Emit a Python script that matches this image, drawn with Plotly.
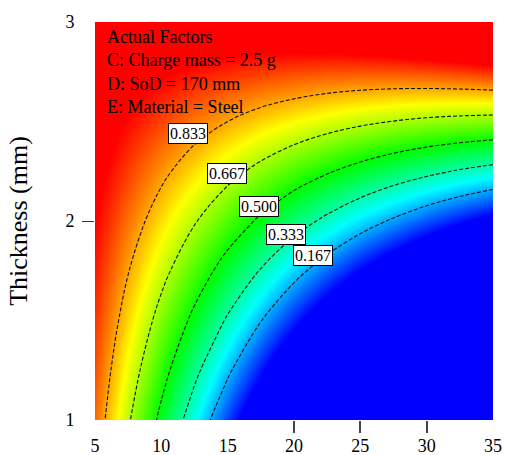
import plotly.graph_objects as go

# x: first factor (5..35), y: Thickness (mm)
x_vals = [5, 7.5, 10, 12.5, 15, 17.5, 20, 22.5, 25, 27.5, 30, 32.5, 35]
y_vals = [1, 1.25, 1.5, 1.75, 2, 2.25, 2.5, 2.75, 3]

z_y100 = [0.899, 0.681, 0.469, 0.262, 0.060, -0.137, -0.330, -0.517, -0.700, -0.877, -1.050, -1.217, -1.380]
z_y125 = [0.925, 0.733, 0.547, 0.365, 0.189, 0.017, -0.150, -0.311, -0.468, -0.620, -0.767, -0.909, -1.046]
z_y150 = [0.951, 0.785, 0.624, 0.469, 0.318, 0.171, 0.030, -0.106, -0.237, -0.363, -0.485, -0.601, -0.713]
z_y175 = [0.977, 0.837, 0.702, 0.572, 0.446, 0.326, 0.210, 0.100, -0.006, -0.106, -0.202, -0.293, -0.379]
z_y200 = [1.004, 0.889, 0.780, 0.675, 0.575, 0.480, 0.390, 0.306, 0.226, 0.151, 0.080, 0.015, -0.045]
z_y225 = [1.030, 0.941, 0.857, 0.778, 0.704, 0.635, 0.570, 0.511, 0.457, 0.407, 0.363, 0.323, 0.289]
z_y250 = [1.056, 0.993, 0.935, 0.881, 0.833, 0.789, 0.751, 0.717, 0.688, 0.664, 0.645, 0.632, 0.623]
z_y275 = [1.083, 1.045, 1.012, 0.984, 0.961, 0.944, 0.931, 0.922, 0.919, 0.921, 0.928, 0.940, 0.956]
z_y300 = [1.109, 1.097, 1.090, 1.088, 1.090, 1.098, 1.111, 1.128, 1.151, 1.178, 1.210, 1.248, 1.290]
z_rows = [z_y100, z_y125, z_y150, z_y175, z_y200, z_y225, z_y250, z_y275, z_y300]

contour_levels = [0.167, 0.333, 0.500, 0.667, 0.833]
level_labels = ["0.833", "0.667", "0.500", "0.333", "0.167"]
label_x = [12.03, 14.96, 17.36, 19.38, 21.45]
label_y = [2.438, 2.240, 2.075, 1.934, 1.829]

x_ticks = [5, 10, 15, 20, 25, 30, 35]
y_ticks = [1, 2, 3]
x_marked_ticks = [20, 25, 30]
y_marked_ticks = [2]
factor_lines = ["Actual Factors", "C: Charge mass = 2.5 g", "D: SoD = 170 mm", "E: Material = Steel"]

FONT = "Liberation Serif, Times New Roman, serif"
jet = [[0.0, "#0000FF"], [0.25, "#00FFFF"], [0.5, "#00FF00"], [0.75, "#FFFF00"], [1.0, "#FF0000"]]

fig = go.Figure()
fig.add_trace(go.Heatmap(x=x_vals, y=y_vals, z=z_rows, colorscale=jet, zmin=0, zmax=1,
                         zsmooth="best", showscale=False, hoverinfo="skip"))
fig.add_trace(go.Contour(x=x_vals, y=y_vals, z=z_rows, showscale=False,
                         contours=dict(start=contour_levels[0], end=contour_levels[-1] + 0.001,
                                       size=(contour_levels[-1] - contour_levels[0]) / 4,
                                       coloring="none", showlabels=False),
                         line=dict(color="#111111", width=1.1, dash="4px,2px"), hoverinfo="skip"))
# empty trace on the overlay axes (tick labels for x, visible tick mark for y)
fig.add_trace(go.Scatter(x=[None], y=[None], xaxis="x2", yaxis="y2", mode="markers",
                         hoverinfo="skip", showlegend=False))

for t, lx, ly in zip(level_labels, label_x, label_y):
    fig.add_annotation(x=lx, y=ly, text=t, showarrow=False, bgcolor="white",
                       bordercolor="black", borderwidth=1, borderpad=1,
                       font=dict(family=FONT, size=16, color="black"))

fig.add_annotation(xref="paper", yref="paper", x=0.025, y=0.992, xanchor="left", yanchor="top",
                   align="left", showarrow=False, text="<br>".join(factor_lines),
                   font=dict(family=FONT, size=18, color="black"))

fig.update_layout(
    width=506, height=455,
    margin=dict(l=95, r=13, t=22, b=35, autoexpand=False),
    paper_bgcolor="white", plot_bgcolor="white",
    showlegend=False,
    font=dict(family=FONT, size=18, color="black"),
    # main x axis: only the visible tick marks
    xaxis=dict(range=[5, 35], tickvals=x_marked_ticks, ticks="outside", ticklen=12, tickwidth=1.5,
               tickcolor="#444444", showticklabels=False, automargin=False,
               showgrid=False, zeroline=False, showline=False),
    yaxis=dict(range=[1, 3], tickvals=y_ticks, ticks="outside", ticklen=16, automargin=False,
               tickcolor="rgba(0,0,0,0)", showgrid=False, zeroline=False, showline=False,
               tickfont=dict(family=FONT, size=18, color="black"),
               title=dict(text="Thickness (mm)", font=dict(family=FONT, size=26, color="black"),
                          standoff=30)),
    # overlay x axis: the tick labels
    xaxis2=dict(overlaying="x", anchor="y", side="bottom", range=[5, 35], tickvals=x_ticks,
                ticks="outside", ticklen=9, tickcolor="rgba(0,0,0,0)", showticklabels=True,
                tickfont=dict(family=FONT, size=18, color="black"),
                automargin=False, showgrid=False, zeroline=False, showline=False),
    yaxis2=dict(overlaying="y", anchor="x", side="left", range=[1, 3], tickvals=y_marked_ticks,
                ticks="outside", ticklen=12, tickcolor="#333333", showticklabels=False,
                automargin=False, showgrid=False, zeroline=False, showline=False),
)

fig.write_html("out.html")
